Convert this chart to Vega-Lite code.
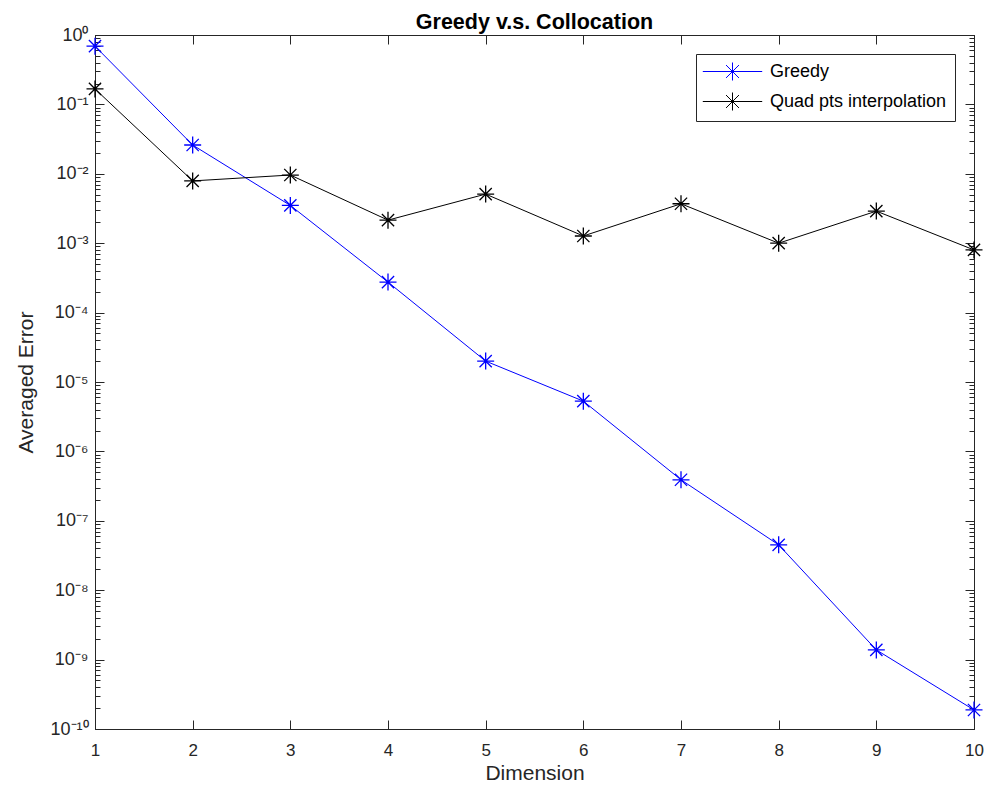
{
  "$schema": "https://vega.github.io/schema/vega-lite/v6.json",
  "width": 879,
  "height": 694,
  "autosize": {"type": "none"},
  "padding": {"left": 95, "top": 35, "right": 17, "bottom": 66},
  "background": "white",
  "config": {
    "font": "Liberation Sans",
    "view": {"stroke": "#262626", "strokeWidth": 1},
    "axis": {"grid": false, "domainColor": "#262626", "tickColor": "#262626", "labelColor": "#262626", "titleColor": "#262626", "labelFont": "Liberation Sans", "titleFont": "Liberation Sans", "titleFontWeight": "normal"}
  },
  "title": {"text": "Greedy v.s. Collocation", "fontSize": 21.5, "fontWeight": "bold", "color": "#000000", "font": "Liberation Sans", "offset": 7, "dy": 14},
  "data": {"values": [
    {"dim": 1, "series": "Greedy", "err": 0.69},
    {"dim": 2, "series": "Greedy", "err": 0.026},
    {"dim": 3, "series": "Greedy", "err": 0.0035},
    {"dim": 4, "series": "Greedy", "err": 0.000275},
    {"dim": 5, "series": "Greedy", "err": 0.00002},
    {"dim": 6, "series": "Greedy", "err": 0.0000053},
    {"dim": 7, "series": "Greedy", "err": 3.9e-7},
    {"dim": 8, "series": "Greedy", "err": 4.5e-8},
    {"dim": 9, "series": "Greedy", "err": 1.38e-9},
    {"dim": 10, "series": "Greedy", "err": 1.88e-10},
    {"dim": 1, "series": "Quad pts interpolation", "err": 0.167},
    {"dim": 2, "series": "Quad pts interpolation", "err": 0.0079},
    {"dim": 3, "series": "Quad pts interpolation", "err": 0.0096},
    {"dim": 4, "series": "Quad pts interpolation", "err": 0.00215},
    {"dim": 5, "series": "Quad pts interpolation", "err": 0.0051},
    {"dim": 6, "series": "Quad pts interpolation", "err": 0.00127},
    {"dim": 7, "series": "Quad pts interpolation", "err": 0.0037},
    {"dim": 8, "series": "Quad pts interpolation", "err": 0.001},
    {"dim": 9, "series": "Quad pts interpolation", "err": 0.0029},
    {"dim": 10, "series": "Quad pts interpolation", "err": 0.0008}
  ]},
  "resolve": {"axis": {"x": "independent", "y": "independent"}},
  "layer": [
    {
      "mark": {"type": "line", "strokeWidth": 1},
      "encoding": {
        "x": {"field": "dim", "type": "quantitative", "scale": {"domain": [1, 10], "nice": false, "zero": false},
          "axis": {"orient": "bottom", "title": "Dimension", "values": [1,2,3,4,5,6,7,8,9,10], "format": "d", "labelFontSize": 17, "titleFontSize": 21, "tickSize": -9, "labelPadding": 22, "labelFlush": false, "titlePadding": 4}},
        "y": {"field": "err", "type": "quantitative", "scale": {"type": "log", "domain": [1e-10, 1], "nice": false},
          "axis": {"orient": "left", "title": "Averaged Error", "titleFontSize": 21, "labelFontSize": 18, "labelOverlap": false, "labelBound": false, "labelPadding": 16, "titlePadding": 13,
            "values": [1e-10,2e-10,3e-10,4e-10,5e-10,6e-10,7e-10,8e-10,9e-10,1e-9,2e-9,3e-9,4e-9,5e-9,6e-9,7e-9,8e-9,9e-9,1e-8,2e-8,3e-8,4e-8,5e-8,6e-8,7e-8,8e-8,9e-8,1e-7,2e-7,3e-7,4e-7,5e-7,6e-7,7e-7,8e-7,9e-7,1e-6,2e-6,3e-6,4e-6,5e-6,6e-6,7e-6,8e-6,9e-6,1e-5,2e-5,3e-5,4e-5,5e-5,6e-5,7e-5,8e-5,9e-5,1e-4,2e-4,3e-4,4e-4,5e-4,6e-4,7e-4,8e-4,9e-4,1e-3,2e-3,3e-3,4e-3,5e-3,6e-3,7e-3,8e-3,9e-3,1e-2,2e-2,3e-2,4e-2,5e-2,6e-2,7e-2,8e-2,9e-2,1e-1,2e-1,3e-1,4e-1,5e-1,6e-1,7e-1,8e-1,9e-1,1],
            "tickSize": {"condition": {"test": "abs(log(datum.value)/LN10 - round(log(datum.value)/LN10)) < 0.001", "value": -9}, "value": -5},
            "labelExpr": "abs(log(datum.value)/LN10 - round(log(datum.value)/LN10)) < 0.001 ? ('10' + (round(log(datum.value)/LN10) < 0 ? '⁻' : '') + (abs(round(log(datum.value)/LN10)) >= 10 ? '¹⁰' : ['⁰','¹','²','³','⁴','⁵','⁶','⁷','⁸','⁹'][abs(round(log(datum.value)/LN10))])) : ''"}},
        "color": {"field": "series", "type": "nominal", "scale": {"domain": ["Greedy", "Quad pts interpolation"], "range": ["#0000ff", "#000000"]},
          "legend": {"title": null, "orient": "top-right", "offset": 19, "fillColor": "white", "strokeColor": "#262626", "padding": 8, "labelFontSize": 18, "labelLimit": 400, "labelColor": "#000000", "labelFont": "Liberation Sans", "rowPadding": 7,
            "symbolType": "M-3.3,0L3.3,0M0,-1L0,1M-0.72,-0.72L0.72,0.72M-0.72,0.72L0.72,-0.72", "symbolSize": 324, "symbolStrokeWidth": 1, "symbolFillColor": "transparent", "symbolOffset": 19, "labelOffset": 28}}
      }
    },
    {
      "mark": {"type": "point", "shape": "M-1,0L1,0M0,-1L0,1M-0.72,-0.72L0.72,0.72M-0.72,0.72L0.72,-0.72", "size": 289, "filled": false, "strokeWidth": 1.3, "opacity": 1},
      "encoding": {
        "x": {"field": "dim", "type": "quantitative", "axis": {"orient": "top", "title": null, "labels": false, "values": [1,2,3,4,5,6,7,8,9,10], "tickSize": -9, "domain": true}},
        "y": {"field": "err", "type": "quantitative", "axis": {"orient": "right", "title": null, "labels": false,
            "values": [1e-10,2e-10,3e-10,4e-10,5e-10,6e-10,7e-10,8e-10,9e-10,1e-9,2e-9,3e-9,4e-9,5e-9,6e-9,7e-9,8e-9,9e-9,1e-8,2e-8,3e-8,4e-8,5e-8,6e-8,7e-8,8e-8,9e-8,1e-7,2e-7,3e-7,4e-7,5e-7,6e-7,7e-7,8e-7,9e-7,1e-6,2e-6,3e-6,4e-6,5e-6,6e-6,7e-6,8e-6,9e-6,1e-5,2e-5,3e-5,4e-5,5e-5,6e-5,7e-5,8e-5,9e-5,1e-4,2e-4,3e-4,4e-4,5e-4,6e-4,7e-4,8e-4,9e-4,1e-3,2e-3,3e-3,4e-3,5e-3,6e-3,7e-3,8e-3,9e-3,1e-2,2e-2,3e-2,4e-2,5e-2,6e-2,7e-2,8e-2,9e-2,1e-1,2e-1,3e-1,4e-1,5e-1,6e-1,7e-1,8e-1,9e-1,1],
            "tickSize": {"condition": {"test": "abs(log(datum.value)/LN10 - round(log(datum.value)/LN10)) < 0.001", "value": -9}, "value": -5}}},
        "color": {"field": "series", "type": "nominal", "legend": null}
      }
    }
  ]
}
